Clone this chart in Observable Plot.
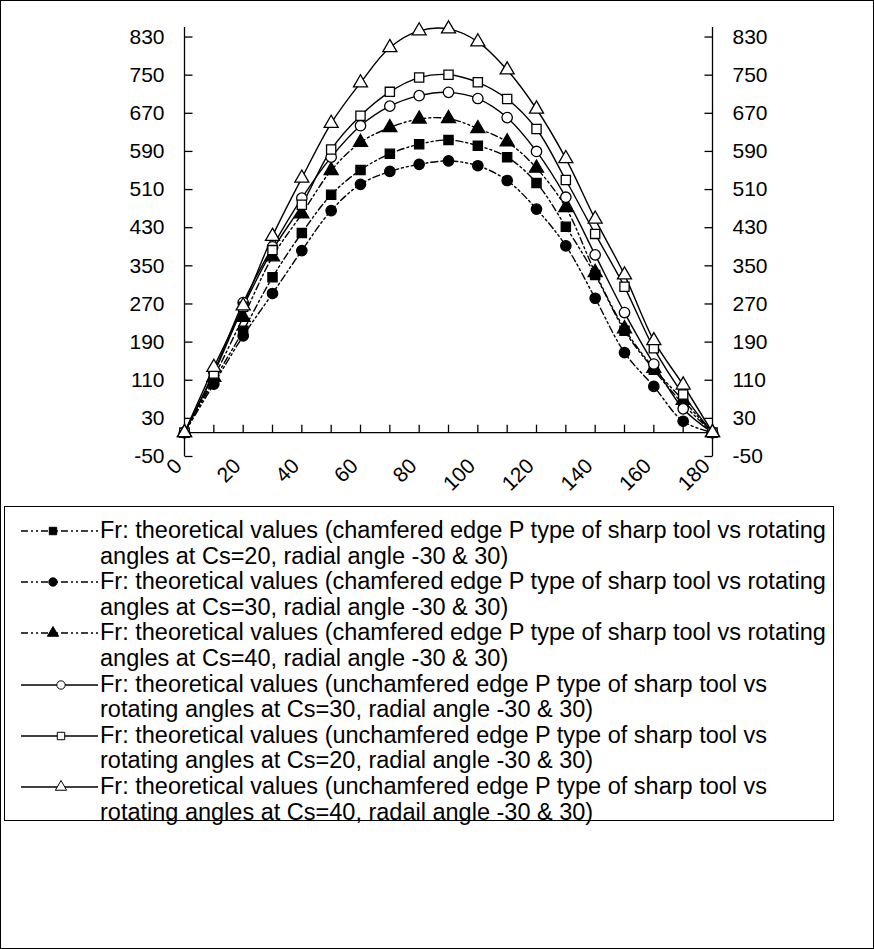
<!DOCTYPE html>
<html>
<head>
<meta charset="utf-8">
<script src="https://cdn.jsdelivr.net/npm/d3@7"></script>
<script src="https://cdn.jsdelivr.net/npm/@observablehq/plot@0.6"></script>
<style>
  body { margin: 0; background: #fff; }
  #chart { position: relative; width: 874px; height: 949px; font-family: Arial, "Liberation Sans", sans-serif; color: #000; }
  #frame { position: absolute; left: 0; top: 0; width: 872px; height: 947px; border: 1px solid #000; }
  #plot { position: absolute; left: 0; top: 0; }
  #legend { position: absolute; left: 4px; top: 506px; width: 828px; height: 313px; border: 1px solid #000; background: #fff; }
  .entry { position: absolute; left: 0; width: 828px; height: 51px; }
  .entry svg { position: absolute; left: 14px; top: 0; }
  .entry .txt { position: absolute; left: 95px; top: 0; font-size: 23.5px; line-height: 25.5px; white-space: nowrap; }
</style>
</head>
<body>
<div id="chart">
  <div id="frame"></div>
  <div id="plot"></div>
  <div id="legend"></div>
</div>
<script>
// Rotating angle (degrees)
const angles = [0, 10, 20, 30, 40, 50, 60, 70, 80, 90, 100, 110, 120, 130, 140, 150, 160, 170, 180];

// Fr, chamfered edge P type of sharp tool
const frChamferedCs20 = [0, 109, 214, 326, 419, 499, 551, 585, 605, 614, 602, 578, 524, 432, 331, 214, 132, 60, 0];
const frChamferedCs30 = [0, 102, 203, 292, 382, 466, 521, 548, 563, 570, 560, 529, 469, 392, 282, 168, 97, 24, 0];
const frChamferedCs40 = [0, 116, 242, 369, 459, 550, 609, 640, 658, 659, 638, 610, 555, 472, 336, 218, 135, 68, 0];

// Fr, unchamfered edge P type of sharp tool
const frUnchamferedCs30 = [0, 127, 273, 390, 492, 578, 644, 685, 707, 714, 701, 661, 590, 494, 373, 252, 144, 50, 0];
const frUnchamferedCs20 = [0, 124, 264, 383, 478, 594, 665, 715, 745, 751, 735, 700, 637, 530, 417, 306, 177, 80, 0];
const frUnchamferedCs40 = [0, 137, 266, 412, 534, 649, 734, 808, 843, 847, 820, 761, 679, 575, 448, 331, 193, 100, 0];

// Axis ticks
const yTicks = [-50, 30, 110, 190, 270, 350, 430, 510, 590, 670, 750, 830];
const xMinorTicks = angles;
const xLabels = [0, 20, 40, 60, 80, 100, 120, 140, 160, 180];

// Legend text, two lines per series
const legendLines = [
  ["Fr: theoretical values (chamfered edge P type of sharp tool vs rotating", "angles at Cs=20, radial angle -30 & 30)"],
  ["Fr: theoretical values (chamfered edge P type of sharp tool vs rotating", "angles at Cs=30, radial angle -30 & 30)"],
  ["Fr: theoretical values (chamfered edge P type of sharp tool vs rotating", "angles at Cs=40, radial angle -30 & 30)"],
  ["Fr: theoretical values (unchamfered edge P type of sharp tool vs", "rotating angles at Cs=30, radial angle -30 & 30)"],
  ["Fr: theoretical values (unchamfered edge P type of sharp tool vs", "rotating angles at Cs=20, radial angle -30 & 30)"],
  ["Fr: theoretical values (unchamfered edge P type of sharp tool vs", "rotating angles at Cs=40, radail angle -30 & 30)"]
];

const dashDotDot = "7,3,2,3,2,3";
const series = [
  {values: frChamferedCs20,   symbol: "square",   fill: "black", dash: dashDotDot},
  {values: frChamferedCs30,   symbol: "circle",   fill: "black", dash: dashDotDot},
  {values: frChamferedCs40,   symbol: "triangle", fill: "black", dash: dashDotDot},
  {values: frUnchamferedCs30, symbol: "circle",   fill: "white", dash: null},
  {values: frUnchamferedCs20, symbol: "square",   fill: "white", dash: null},
  {values: frUnchamferedCs40, symbol: "triangle", fill: "white", dash: null}
];
series.forEach((s, k) => {
  s.rows = angles.map((a, i) => ({angle: a, fr: s.values[i]}));
  s.lines = legendLines[k];
});

// Short tick strokes drawn as custom dot symbols
const tickUp = {draw(ctx) { ctx.moveTo(0, 0); ctx.lineTo(0, -8); }};
const tickRight = {draw(ctx) { ctx.moveTo(0, 0); ctx.lineTo(8, 0); }};
const tickLeft = {draw(ctx) { ctx.moveTo(0, 0); ctx.lineTo(-8, 0); }};

const marks = [
  Plot.ruleX([0, 180], {stroke: "black", strokeWidth: 1.3}),
  Plot.ruleY([0], {stroke: "black", strokeWidth: 1.3}),
  Plot.dot(xMinorTicks, {x: d => d, y: 0, symbol: tickUp, fill: "none", stroke: "black", strokeWidth: 1.3}),
  Plot.dot(yTicks, {x: 0, y: d => d, symbol: tickRight, fill: "none", stroke: "black", strokeWidth: 1.3}),
  Plot.dot(yTicks, {x: 180, y: d => d, symbol: tickLeft, fill: "none", stroke: "black", strokeWidth: 1.3}),
  Plot.axisY(yTicks, {anchor: "left", tickSize: 0, tickPadding: 20, label: null, fontSize: 21, tickFormat: d => String(d)}),
  Plot.axisY(yTicks, {anchor: "right", tickSize: 0, tickPadding: 20, label: null, fontSize: 21, tickFormat: d => String(d)}),
  Plot.text(xLabels, {x: d => d, frameAnchor: "bottom", text: d => String(d), rotate: -45,
    textAnchor: "end", lineAnchor: "middle", dx: -6, dy: 6, fontSize: 21})
];
for (const s of series) {
  marks.push(Plot.line(s.rows, {x: "angle", y: "fr", curve: "catmull-rom", stroke: "black",
    strokeWidth: 1.4, strokeDasharray: s.dash || undefined}));
}
for (const s of series) {
  marks.push(Plot.dot(s.rows, {x: "angle", y: "fr", symbol: s.symbol, r: 5.2,
    fill: s.fill, stroke: "black", strokeWidth: 1.3}));
}

const chart = Plot.plot({
  width: 874,
  height: 500,
  marginLeft: 184,
  marginRight: 162,
  marginTop: 27,
  marginBottom: 44,
  style: {fontFamily: "Arial, 'Liberation Sans', sans-serif", fontSize: "21px", color: "black", background: "transparent"},
  x: {domain: [0, 180], axis: null},
  y: {domain: [-50, 850], axis: null},
  marks
});
document.getElementById("plot").append(chart);

// Legend entries
const legend = d3.select("#legend");
const symbolFor = {square: d3.symbolSquare, circle: d3.symbolCircle, triangle: d3.symbolTriangle};
series.forEach((s, k) => {
  const entry = legend.append("div").attr("class", "entry").style("top", `${11 + k * 51.2}px`);
  const svg = entry.append("svg").attr("width", 82).attr("height", 26);
  const cx = s.dash ? 34 : 42;
  svg.append("line").attr("x1", 2).attr("x2", 79).attr("y1", 13).attr("y2", 13)
    .attr("stroke", "black").attr("stroke-width", 1.3)
    .attr("stroke-dasharray", s.dash || null);
  svg.append("path").attr("transform", `translate(${cx},13)`)
    .attr("d", d3.symbol(symbolFor[s.symbol], 55)())
    .attr("fill", s.fill).attr("stroke", "black").attr("stroke-width", 1);
  entry.append("div").attr("class", "txt").html(s.lines[0] + "<br>" + s.lines[1]);
});
</script>
</body>
</html>
